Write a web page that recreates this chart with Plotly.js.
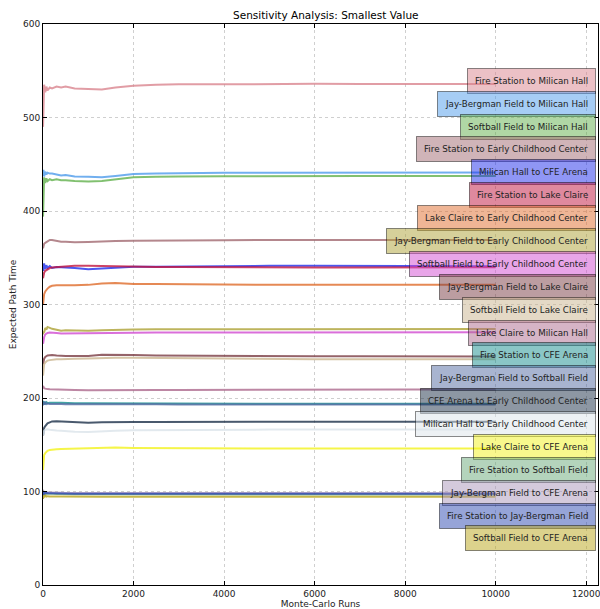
<!DOCTYPE html>
<html>
<head>
<meta charset="utf-8">
<script src="https://cdn.plot.ly/plotly-3.0.1.min.js"></script>
<style>html,body{margin:0;padding:0;background:#fff;}#chart{width:600px;height:609px;}</style>
</head>
<body>
<div id="chart"></div>
<script>
// Monte-Carlo run counts at which the running values were read
const runs = [1, 10, 25, 50, 75, 100, 150, 200, 300, 400, 500, 700, 1000, 1300, 1600, 2000, 2500, 3000, 4000, 5000, 6000, 7000, 8000, 9000, 10000];

const labels = [
  "Fire Station to Milican Hall",
  "Jay-Bergman Field to Milican Hall",
  "Softball Field to Milican Hall",
  "Fire Station to Early Childhood Center",
  "Milican Hall to CFE Arena",
  "Fire Station to Lake Claire",
  "Lake Claire to Early Childhood Center",
  "Jay-Bergman Field to Early Childhood Center",
  "Softball Field to Early Childhood Center",
  "Jay-Bergman Field to Lake Claire",
  "Softball Field to Lake Claire",
  "Lake Claire to Milican Hall",
  "Fire Station to CFE Arena",
  "Jay-Bergman Field to Softball Field",
  "CFE Arena to Early Childhood Center",
  "Milican Hall to Early Childhood Center",
  "Lake Claire to CFE Arena",
  "Fire Station to Softball Field",
  "Jay-Bergman Field to CFE Arena",
  "Fire Station to Jay-Bergman Field",
  "Softball Field to CFE Arena"
];

const colors = [
  "#d9848e", "#4d9beb", "#62b04c", "#a16971", "#1f2deb", "#c0143e", "#df6b2b",
  "#ada135", "#d14bd1", "#7a3c44", "#c9b48e", "#ad698d", "#158d8d", "#5169a1",
  "#1c3048", "#dbe4ea", "#f2f21c", "#69a979", "#a995b9", "#2d49b1", "#b9a519"
];

const fsMilican      = [490, 530, 535, 527, 533, 529, 532, 531, 533, 532, 533, 531, 530.5, 530, 532, 534, 535, 535.5, 535.5, 536, 536, 535.8, 535.8, 535.7, 535.8];
const jbMilican      = [438, 444, 437, 442, 439, 441, 440, 440, 439, 438, 438.5, 437, 436.5, 436, 437.5, 439.5, 440, 440.5, 441, 441, 441.2, 441.3, 441.3, 441.3, 441.3];
const sfMilican      = [394, 425, 436, 430, 435, 432, 434, 433, 434, 433, 433, 432, 431.5, 432, 433.5, 436, 436.5, 437, 437.2, 437.5, 437.5, 437.5, 437.5, 437.4, 437.4];
const fsEarly        = [360, 362, 365, 366, 367, 368, 369, 369, 368, 367, 367, 366.5, 366.8, 367.5, 368, 368.2, 368.5, 368.6, 368.8, 369, 369, 369, 368.9, 368.9, 369];
const mhCfe          = [343, 336, 344, 338, 342, 339, 341, 339, 340, 340, 339.5, 339, 337.8, 338.5, 339.5, 340.3, 340.5, 340.8, 341.2, 341.4, 341.4, 341.2, 341.2, 341, 341];
const fsLake         = [328, 332, 334, 336, 337, 338, 339, 339.5, 340, 340.5, 341, 341.5, 341.4, 341, 340.6, 340.3, 340.2, 340.2, 339.8, 339.6, 339.6, 339.7, 339.7, 339.8, 339.8];
const lcEarly        = [300, 306, 311, 314, 316, 317, 319, 320, 320.7, 320.5, 320.3, 320.5, 321, 322.5, 323, 322, 321.8, 321.5, 321.2, 321, 321, 321, 321, 321, 321];
const jbEarly        = [268, 271, 270, 275, 273, 276, 275, 274, 273, 272, 272.5, 272.3, 272, 272.5, 273, 273.3, 273.5, 273.5, 273.6, 273.8, 273.8, 273.8, 273.8, 273.8, 273.8];
const sfEarly        = [258, 262, 265, 268, 269, 269.5, 270, 270, 269.5, 269, 269, 269, 269.2, 269.5, 269.8, 269.8, 270, 270, 270.2, 270.4, 270.4, 270.4, 270.4, 270.3, 270.3];
const jbLake         = [236, 240, 242, 244, 245, 245.5, 245.8, 246, 245.5, 245, 245, 244.8, 245, 246.3, 246.5, 246, 245.5, 245.3, 245, 244.8, 244.6, 244.6, 244.5, 244.5, 244.5];
const sfLake         = [224, 232, 236, 238, 239, 240, 240.5, 241, 241.5, 241.5, 241.8, 242, 242.2, 242.8, 243, 243, 242.8, 242.5, 242, 241.5, 241.5, 241.5, 241.5, 241.5, 241.5];
const lcMilican      = [213, 211, 210.5, 210, 209.5, 209.5, 209.3, 209.2, 209, 209, 208.8, 208.5, 208.3, 208.2, 208.2, 208.3, 208.5, 208.6, 208.8, 209, 209, 209, 209, 209, 209];
const fsCfe          = [197, 193, 196, 194, 195.5, 194.5, 195, 194.8, 195, 194.8, 194.6, 194.5, 194.4, 194.3, 194.2, 194.2, 194.1, 194, 194, 193.8, 193.8, 193.8, 193.8, 193.8, 193.8];
const jbSoftball     = [192, 196, 193, 195, 193.5, 194, 193.5, 193.6, 193.5, 193.5, 193.4, 193.3, 193.3, 193.3, 193.2, 193.2, 193.2, 193.1, 193.1, 193, 193, 193, 193, 193, 193];
const cfeEarly       = [160, 165, 168, 170, 172, 173, 174, 175, 175.2, 175, 174.5, 174, 173.5, 174, 174.4, 174.4, 174.4, 174.5, 174.5, 174.6, 174.6, 174.5, 174.5, 174.5, 174.5];
const mhEarly        = [160, 163, 165, 166, 166.5, 166.5, 166, 165.5, 165.2, 165, 164.5, 164, 163.7, 164.5, 165, 165.5, 165.7, 165.8, 166, 166.2, 166.3, 166.3, 166.3, 166.3, 166.3];
const lcCfe          = [123, 134, 139, 141, 142.5, 143.5, 144.5, 145, 145.2, 145.4, 145.5, 145.8, 146, 146.8, 147, 146.6, 146.4, 146.3, 146.2, 146, 146, 146, 146, 146, 146];
const fsSoftball     = [101, 96, 99, 97, 98, 97.5, 97.8, 97.5, 97.3, 97.2, 97, 97, 97, 97, 97, 97, 96.8, 96.8, 96.8, 96.8, 96.8, 96.8, 96.8, 96.8, 96.8];
const jbCfe          = [102, 98, 100, 99, 99.5, 99, 99, 98.8, 98.7, 98.6, 98.5, 98.5, 98.4, 98.4, 98.3, 98.3, 98.3, 98.3, 98.2, 98.2, 98.2, 98.2, 98.2, 98.2, 98.2];
const fsJb           = [96, 100, 97, 99, 98, 98.3, 98, 97.9, 97.8, 97.8, 97.7, 97.7, 97.7, 97.7, 97.7, 97.7, 97.6, 97.6, 97.6, 97.6, 97.6, 97.6, 97.6, 97.6, 97.6];
const sfCfe          = [92, 96, 94, 95.5, 94.5, 95, 94.6, 94.8, 94.7, 94.6, 94.5, 94.5, 94.5, 94.4, 94.4, 94.4, 94.4, 94.4, 94.3, 94.3, 94.3, 94.3, 94.3, 94.3, 94.3];

const series = [fsMilican, jbMilican, sfMilican, fsEarly, mhCfe, fsLake, lcEarly, jbEarly, sfEarly,
  jbLake, sfLake, lcMilican, fsCfe, jbSoftball, cfeEarly, mhEarly, lcCfe, fsSoftball, jbCfe, fsJb, sfCfe];

const xTicks = [0, 2000, 4000, 6000, 8000, 10000, 12000];
const yTicks = [0, 100, 200, 300, 400, 500, 600];

function hexToRgba(hex, a) {
  const n = parseInt(hex.slice(1), 16);
  return "rgba(" + ((n >> 16) & 255) + "," + ((n >> 8) & 255) + "," + (n & 255) + "," + a + ")";
}

const FONT = "DejaVu Sans, Liberation Sans, sans-serif";

const traces = series.map((vals, i) => ({
  type: "scatter",
  mode: "lines",
  x: runs,
  y: vals,
  name: labels[i],
  line: {color: hexToRgba(colors[i], 0.8), width: 2},
  hoverinfo: "skip",
  showlegend: false
}));

const annotations = labels.map((lab, i) => ({
  xref: "paper", yref: "y",
  x: 0.997, xanchor: "right",
  y: 539.2 - 24.47 * i, yanchor: "middle",
  text: lab,
  showarrow: false,
  font: {family: FONT, size: 8.7, color: "#222"},
  bgcolor: hexToRgba(colors[i], 0.5),
  bordercolor: "rgba(0,0,0,0.45)",
  borderwidth: 1,
  borderpad: 7
}));

annotations.push({
  xref: "paper", yref: "paper", x: 0.5, y: 1, yanchor: "bottom", yshift: 1, xshift: 5,
  text: "Sensitivity Analysis: Smallest Value", showarrow: false,
  font: {family: FONT, size: 10.5, color: "#000"}
});

const layout = {
  width: 600, height: 609,
  margin: {l: 43, r: 2, t: 24, b: 24},
  paper_bgcolor: "#fff", plot_bgcolor: "#fff",
  font: {family: FONT, size: 9, color: "#222"},
  showlegend: false,
  xaxis: {
    range: [0, 12260],
    tickvals: xTicks, ticktext: xTicks.map(String),
    ticklabeloverflow: "allow",
    showgrid: true, gridcolor: "#cfcfcf", griddash: "dot", gridwidth: 1,
    zeroline: false,
    showline: true, linecolor: "#000", linewidth: 1, mirror: "ticks",
    ticks: "inside", ticklen: 4, tickcolor: "#000",
    tickfont: {family: FONT, size: 9, color: "#222"},
    title: {text: "Monte-Carlo Runs", font: {family: FONT, size: 9, color: "#222"}, standoff: 3},
    automargin: false
  },
  yaxis: {
    range: [0, 600],
    tickvals: yTicks, ticktext: yTicks.map(String),
    ticklabeloverflow: "allow",
    showgrid: true, gridcolor: "#cfcfcf", griddash: "dot", gridwidth: 1,
    zeroline: false,
    showline: true, linecolor: "#000", linewidth: 1, mirror: "ticks",
    ticks: "inside", ticklen: 4, tickcolor: "#000",
    tickfont: {family: FONT, size: 9, color: "#222"},
    title: {text: "Expected Path Time", font: {family: FONT, size: 9, color: "#222"}, standoff: 4},
    automargin: false
  },
  annotations: annotations
};

Plotly.newPlot("chart", traces, layout, {displayModeBar: false, staticPlot: true});
</script>
</body>
</html>
